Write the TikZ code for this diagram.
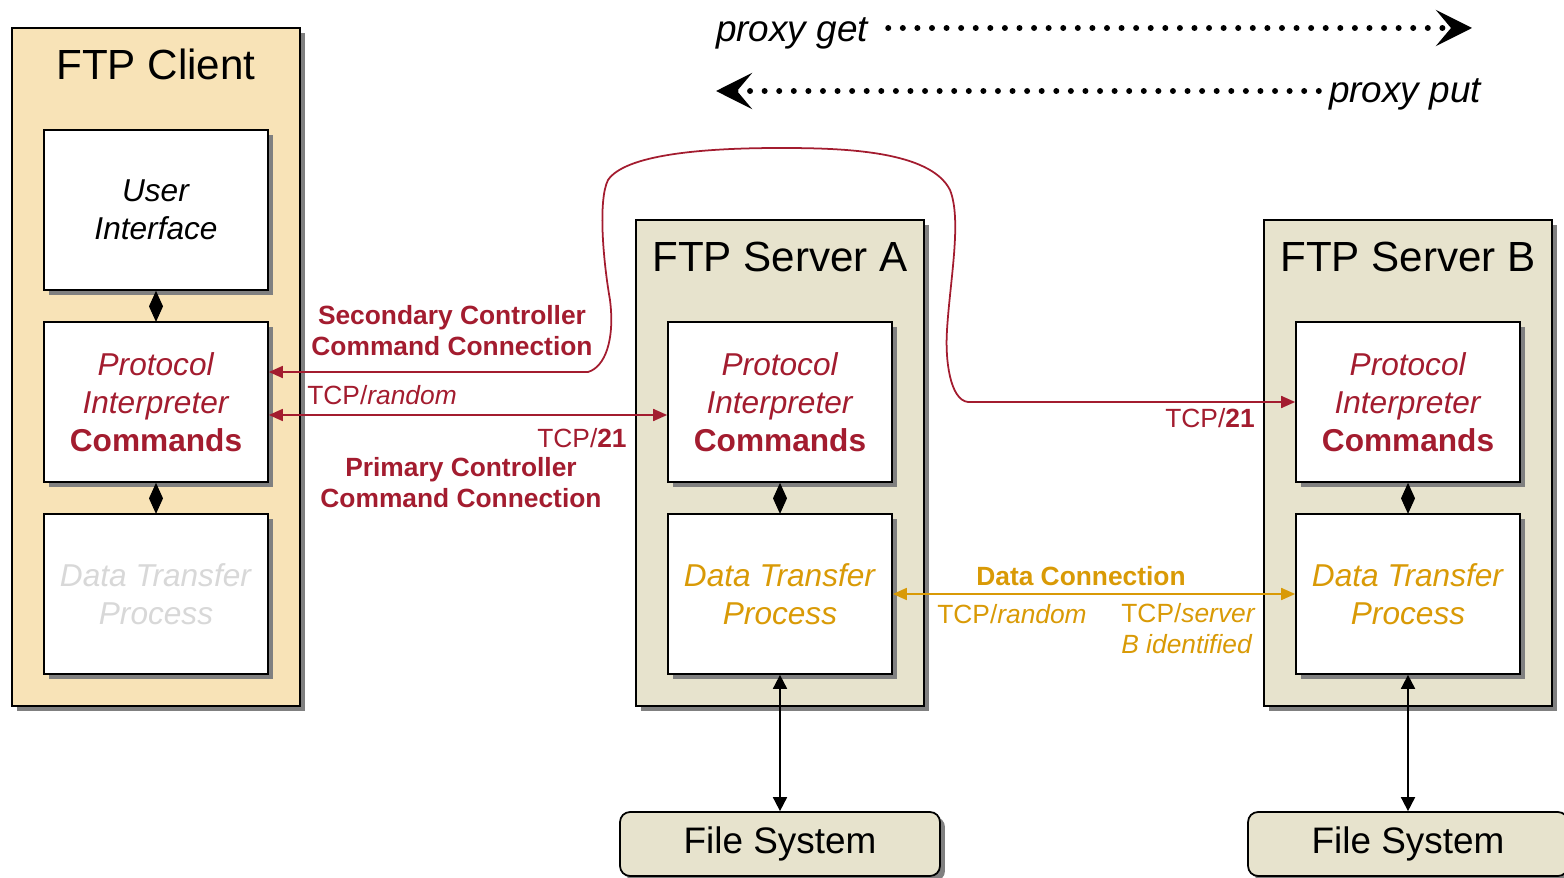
\documentclass[tikz,border=0pt]{standalone}
\usepackage{fontspec}
\setmainfont{Liberation Sans}
\usetikzlibrary{arrows.meta,shadows,positioning}
\definecolor{ctrlred}{HTML}{A31C2F}
\definecolor{dataorange}{HTML}{D99A06}
\definecolor{clientfill}{HTML}{F8E3B7}
\definecolor{serverfill}{HTML}{E7E3CD}
\definecolor{fadedgray}{HTML}{D8D8D8}

\begin{document}
\begin{tikzpicture}[x=0.02cm, y=-0.02cm,
    >={Triangle[length=0.28cm, width=0.24cm]},
    shadowed/.style={drop shadow={shadow xshift=0.1cm, shadow yshift=-0.1cm, fill=black!50, opacity=1}},
    outer/.style={draw, line width=1pt, shadowed, minimum width=5.76cm, inner sep=0pt},
    inner/.style={draw, line width=1pt, fill=white, shadowed, minimum width=4.48cm, minimum height=3.2cm,
        align=center, inner sep=0pt, font=\fontsize{18}{21.6}\selectfont},
    fsbox/.style={draw, line width=1pt, fill=serverfill, rounded corners=0.2cm, shadowed,
        minimum width=6.4cm, minimum height=1.28cm, font=\fontsize{21}{25}\selectfont},
    title/.style={inner sep=0pt, font=\fontsize{24}{28}\selectfont},
    lbl/.style={inner sep=0pt, align=center, font=\fontsize{15}{17.6}\selectfont},
    proxylbl/.style={inner sep=0pt, font=\fontsize{21}{25}\selectfont\itshape},
    ctrl/.style={ctrlred, line width=1pt},
    data/.style={dataorange, line width=1pt},
    link/.style={line width=0.6pt, -{Diamond[length=0.62cm, width=0.28cm]}},
    proxy/.style={line width=3.4pt, line cap=round, dash pattern=on 0pt off 8.3pt,
        -{Stealth[length=0.72cm, width=0.72cm, inset=0.3cm]}}]
    \useasboundingbox (0,0) rectangle (1564,878);

    % containers
    \node[outer, fill=clientfill, minimum height=13.56cm] (client) at (156,367) {};
    \node[outer, fill=serverfill, minimum height=9.72cm] (srva) at (780,463) {};
    \node[outer, fill=serverfill, minimum height=9.72cm] (srvb) at (1408,463) {};
    \node[title, anchor=base] (clienttitle) at (156,80) {FTP Client};
    \node[title, anchor=base] (srvatitle) at (780,272) {FTP Server A};
    \node[title, anchor=base] (srvbtitle) at (1408,272) {FTP Server B};

    % client
    \node[inner] (cui) at (156,210) {\textit{User}\\\textit{Interface}};
    \node[inner, text=ctrlred] (cpi) at (156,402) {\textit{Protocol}\\\textit{Interpreter}\\\textbf{Commands}};
    \node[inner, text=fadedgray] (cdtp) at (156,594) {\textit{Data Transfer}\\\textit{Process}};

    % server A
    \node[inner, text=ctrlred] (api) at (780,402) {\textit{Protocol}\\\textit{Interpreter}\\\textbf{Commands}};
    \node[inner, text=dataorange] (adtp) at (780,594) {\textit{Data Transfer}\\\textit{Process}};

    % server B
    \node[inner, text=ctrlred] (bpi) at (1408,402) {\textit{Protocol}\\\textit{Interpreter}\\\textbf{Commands}};
    \node[inner, text=dataorange] (bdtp) at (1408,594) {\textit{Data Transfer}\\\textit{Process}};

    % file systems
    \node[fsbox] (afs) at (780,844) {File System};
    \node[fsbox] (bfs) at (1408,844) {File System};

    \draw[link] (cpi.north) -- (cui.south);
    \draw[link] (cdtp.north) -- (cpi.south);
    \draw[link] (adtp.north) -- (api.south);
    \draw[link] (bdtp.north) -- (bpi.south);

    \draw[<->, line width=1pt, >={Triangle[length=0.28cm, width=0.28cm]}] (adtp.south) -- (afs.north);
    \draw[<->, line width=1pt, >={Triangle[length=0.28cm, width=0.28cm]}] (bdtp.south) -- (bfs.north);

    % control connections
    \draw[ctrl, <->] ([yshift=-0.26cm]cpi.east) -- ([yshift=-0.26cm]api.west);
    \draw[ctrl, <->] ([yshift=0.6cm]cpi.east) -- (588,372)
        .. controls (605,367) and (615,340) .. (610,300)
        .. controls (603,260) and (598,200) .. (608,180)
        .. controls (625,155) and (700,148) .. (780,148)
        .. controls (840,148) and (930,150) .. (950,190)
        .. controls (962,220) and (950,280) .. (947,330)
        .. controls (945,360) and (950,400) .. (968,402) -- (bpi.west);
    \node[lbl, text=ctrlred, font=\fontsize{15}{17.6}\selectfont\bfseries] (seclbl) at (452,331) {Secondary Controller\\Command Connection};
    \node[lbl, text=ctrlred, anchor=west] (randlbl) at (307,395) {TCP/\textit{random}};
    \node[lbl, text=ctrlred, anchor=east] (portlbl) at (627,438) {TCP/\textbf{21}};
    \node[lbl, text=ctrlred, font=\fontsize{15}{17.6}\selectfont\bfseries] (primlbl) at (461,483) {Primary Controller\\Command Connection};
    \node[lbl, text=ctrlred, anchor=east] (bportlbl) at (1255,418) {TCP/\textbf{21}};

    % data connection
    \draw[data, <->] (adtp.east) -- (bdtp.west);
    \node[lbl, text=dataorange, font=\fontsize{15}{17.6}\selectfont\bfseries] (datalbl) at (1081,576) {Data Connection};
    \node[lbl, text=dataorange] (drandlbl) at (1012,614) {TCP/\textit{random}};
    \node[lbl, text=dataorange, align=left, anchor=west] (dsrvlbl) at (1121,629) {TCP/\textit{server}\\\textit{B identified}};

    % proxy directions
    \node[proxylbl, anchor=base] (get) at (792,42) {proxy get};
    \node[proxylbl, anchor=base] (put) at (1405,103) {proxy put};
    \coordinate (getend) at (1472,28);
    \coordinate (putend) at (716,91);
    \draw[proxy, shorten <=0.4cm] (get.east |- getend) -- (getend);
    \draw[proxy, shorten <=0.2cm] (put.west |- putend) -- (putend);

\end{tikzpicture}
\end{document}
